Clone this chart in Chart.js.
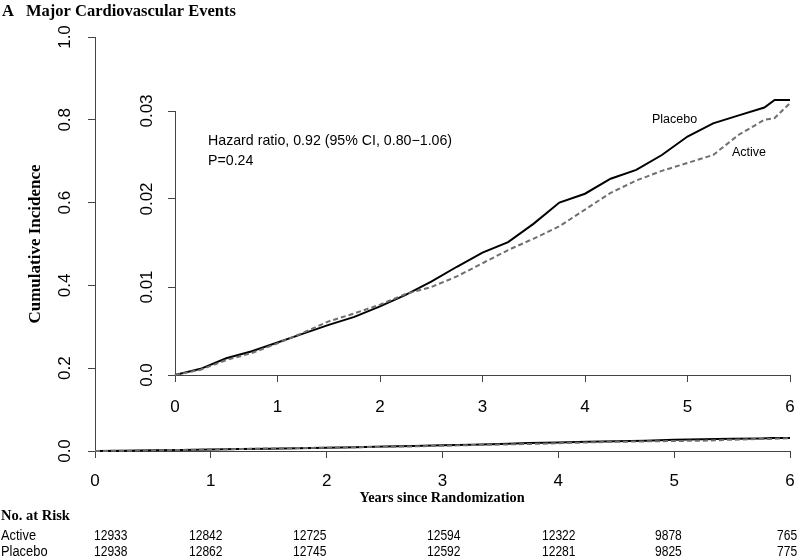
<!DOCTYPE html>
<html><head><meta charset="utf-8">
<script src="https://cdn.jsdelivr.net/npm/chart.js@4.4.1/dist/chart.umd.min.js"></script>
<style>
html,body{margin:0;padding:0;background:#fff;}
#wrap{position:relative;width:800px;height:560px;overflow:hidden;background:#fff;}
#outer{position:absolute;left:0;top:0;}
#inset{position:absolute;left:120px;top:80px;}
</style></head><body>
<div id="wrap"><canvas id="outer" width="800" height="560"></canvas><canvas id="inset" width="680" height="340"></canvas></div>
<script>
// ---- data ----
const years   = [0,0.25,0.5,0.75,1,1.25,1.5,1.75,2,2.25,2.5,2.75,3,3.25,3.5,3.75,4,4.25,4.5,4.75,5,5.25,5.5,5.75,5.85,6];
const placebo = [0,0.0007,0.0019,0.0027,0.0037,0.0047,0.0057,0.0066,0.0078,0.0091,0.0106,0.0123,0.0139,0.0151,0.0172,0.0196,0.0206,0.0223,0.0233,0.0250,0.0271,0.0286,0.0295,0.0304,0.03125,0.03125];
const active  = [0,0.0006,0.0017,0.0025,0.0036,0.0048,0.0061,0.0070,0.0080,0.0092,0.0100,0.0112,0.0127,0.0142,0.0155,0.0169,0.0188,0.0207,0.0221,0.0232,0.0241,0.0250,0.0273,0.0290,0.0292,0.0309];
const xTicks = [0,1,2,3,4,5,6];
const outerYTicks = [0,0.2,0.4,0.6,0.8,1.0];
const insetYTicks = [0,0.01,0.02,0.03];
const riskGroups = ['Active','Placebo'];
const riskActive  = ['12933','12842','12725','12594','12322','9878','765'];
const riskPlacebo = ['12938','12862','12745','12592','12281','9825','775'];
const seriesNames = ['Placebo','Active'];
const hazardText = ['Hazard ratio, 0.92 (95% CI, 0.80\u22121.06)','P=0.24'];

const SANS = '"Liberation Sans", Arial, sans-serif';
const SERIF = '"Liberation Serif", "Times New Roman", serif';
const AXIS = '#444';

function txt(ctx, s, x, y, font, align, sx, rot, color){
  ctx.save();
  ctx.font = font; ctx.fillStyle = color || '#000';
  ctx.textAlign = align || 'left'; ctx.textBaseline = 'middle';
  ctx.translate(x, y);
  if (rot) ctx.rotate(rot);
  ctx.scale(sx || 1, 1);
  ctx.fillText(s, 0, 0);
  ctx.restore();
}
function pts(arr){ return years.map((x,i)=>({x:x, y:arr[i]})); }
function mkDatasets(){
  return [
    {label:seriesNames[1], data:pts(active), borderColor:'#6f6f6f', borderDash:[5,3], borderWidth:2, pointRadius:0, tension:0, clip:false},
    {label:seriesNames[0], data:pts(placebo), borderColor:'#000', borderWidth:2, pointRadius:0, tension:0, clip:false}
  ];
}
function axisOpts(ticks, min, max, fit){
  return {
    type:'linear', min:min, max:max,
    afterBuildTicks: s => { s.ticks = ticks.map(v=>({value:v})); },
    afterFit: fit,
    ticks:{display:false, autoSkip:false},
    grid:{drawOnChartArea:false, drawTicks:true, tickLength:7, color:AXIS, lineWidth:1},
    border:{display:true, color:AXIS, width:1}
  };
}
function drawTickLabels(chart, yTicks, yFmt, yLabelX, xLabelY){
  const ctx = chart.ctx, xs = chart.scales.x, ys = chart.scales.y;
  xTicks.forEach(v=> txt(ctx, String(v), xs.getPixelForValue(v), xLabelY, '17px '+SANS, 'center'));
  yTicks.forEach(v=> txt(ctx, yFmt(v), yLabelX, ys.getPixelForValue(v), '17px '+SANS, 'center', 1, -Math.PI/2));
}

const outerText = {
  id:'outerText',
  afterDraw(chart){
    const ctx = chart.ctx;
    drawTickLabels(chart, outerYTicks, v=>v.toFixed(1), 65, 481);
    txt(ctx, 'A', 2, 12, 'bold 16.5px '+SERIF, 'left');
    txt(ctx, 'Major Cardiovascular Events', 26, 12, 'bold 16.5px '+SERIF, 'left');
    txt(ctx, 'Cumulative Incidence', 36, 244, 'bold 17px '+SERIF, 'center', 1, -Math.PI/2);
    txt(ctx, 'Years since Randomization', 442, 498, 'bold 14.3px '+SERIF, 'center');
    txt(ctx, 'No. at Risk', 1, 516, 'bold 14.5px '+SERIF, 'left');
    const rx = [94,189,293,427,542,655,777];
    const rows = [riskActive, riskPlacebo];
    const ry = [536, 552];
    riskGroups.forEach((g,i)=>{
      txt(ctx, g, 1, ry[i], '14px '+SANS, 'left', 0.92);
      rows[i].forEach((s,j)=> txt(ctx, s, rx[j], ry[i], '14px '+SANS, 'left', 0.86));
    });
  }
};

new Chart(document.getElementById('outer'), {
  type:'line',
  data:{datasets:mkDatasets()},
  options:{
    responsive:false, animation:false, devicePixelRatio:1,
    layout:{padding:{left:0, right:10, top:37, bottom:0}},
    plugins:{legend:{display:false}, tooltip:{enabled:false}},
    scales:{
      x: axisOpts(xTicks, 0, 6, s=>{ s.height = 109; }),
      y: axisOpts(outerYTicks, 0, 1, s=>{ s.width = 95; })
    }
  },
  plugins:[outerText]
});

const insetText = {
  id:'insetText',
  afterDraw(chart){
    const ctx = chart.ctx;
    drawTickLabels(chart, insetYTicks, v=> v===0?'0.0':String(v), 27, 407-80);
    txt(ctx, hazardText[0], 208-120, 141-80, '14.2px '+SANS, 'left');
    txt(ctx, hazardText[1], 208-120, 161-80, '14.2px '+SANS, 'left');
    txt(ctx, seriesNames[0], 652-120, 120-80, '12.5px '+SANS, 'left');
    txt(ctx, seriesNames[1], 732-120, 153-80, '12.5px '+SANS, 'left');
  }
};

new Chart(document.getElementById('inset'), {
  type:'line',
  data:{datasets:mkDatasets()},
  options:{
    responsive:false, animation:false, devicePixelRatio:1,
    layout:{padding:{left:0, right:10, top:31, bottom:0}},
    plugins:{legend:{display:false}, tooltip:{enabled:false}},
    scales:{
      x: axisOpts(xTicks, 0, 6, s=>{ s.height = 45; }),
      y: axisOpts(insetYTicks, 0, 0.03, s=>{ s.width = 55; })
    }
  },
  plugins:[insetText]
});
</script>
</body></html>
